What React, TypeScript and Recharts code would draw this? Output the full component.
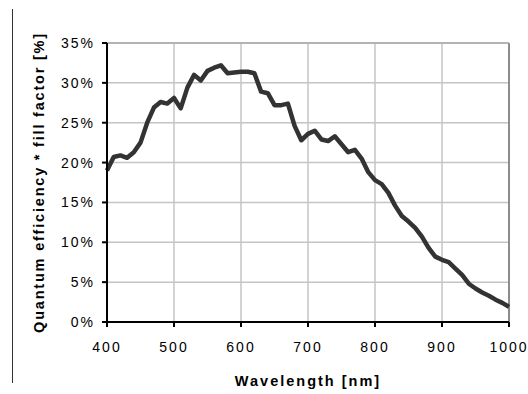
import { LineChart, Line, XAxis, YAxis, CartesianGrid, ReferenceLine } from 'recharts';

// wavelength samples (nm) and QE * fill factor (%)
const wavelengths = [
  400, 410, 420, 430, 440, 450, 460, 470, 480, 490,
  500, 510, 520, 530, 540, 550, 560, 570, 580, 590,
  600, 610, 620, 630, 640, 650, 660, 670, 680, 690,
  700, 710, 720, 730, 740, 750, 760, 770, 780, 790,
  800, 810, 820, 830, 840, 850, 860, 870, 880, 890,
  900, 910, 920, 930, 940, 950, 960, 970, 980, 990, 1000,
];
const efficiency = [
  19.0, 20.7, 20.9, 20.6, 21.3, 22.5, 25.0, 26.9, 27.6, 27.4,
  28.1, 26.8, 29.4, 31.0, 30.3, 31.5, 31.9, 32.2, 31.2, 31.3,
  31.4, 31.4, 31.2, 28.9, 28.7, 27.2, 27.2, 27.4, 24.6, 22.8,
  23.6, 24.0, 22.9, 22.7, 23.3, 22.3, 21.3, 21.6, 20.5, 18.8,
  17.8, 17.3, 16.2, 14.6, 13.3, 12.6, 11.8, 10.7, 9.3, 8.2,
  7.8, 7.5, 6.7, 5.9, 4.8, 4.2, 3.7, 3.3, 2.8, 2.4, 1.9,
];
const xTicks = [400, 500, 600, 700, 800, 900, 1000];
const yTicks = [0, 5, 10, 15, 20, 25, 30, 35];

const data = wavelengths.map((wl, i) => ({ wl, qe: efficiency[i] }));

const font = '"Liberation Sans", Arial, Helvetica, sans-serif';
const tickStyle = { fontFamily: font, fontSize: 14, fill: '#000', letterSpacing: 2 };

const YTitle = (props: any) => {
  const { viewBox } = props;
  const cy = viewBox.y + viewBox.height / 2;
  return (
    <text
      x={44}
      y={cy}
      transform={`rotate(-90, 44, ${cy})`}
      textAnchor="middle"
      fontFamily={font}
      fontSize={14.5}
      fontWeight="bold"
      letterSpacing={1.8}
      fill="#000"
    >
      Quantum efficiency * fill factor [%]
    </text>
  );
};

export default function App() {
  return (
    <div style={{ position: 'absolute', left: 0, top: 0, width: 528, height: 394, background: '#fff' }}>
      {/* thin frame line on the left edge */}
      <div style={{ position: 'absolute', left: 12, top: 9, width: 1, height: 374, background: '#333' }} />
      <LineChart
        width={528}
        height={394}
        data={data}
        margin={{ top: 43, right: 19, bottom: 0, left: 0 }}
      >
        <CartesianGrid stroke="#c4c4c4" strokeWidth={1.5} />
        <XAxis
          dataKey="wl"
          type="number"
          domain={[400, 1000]}
          ticks={xTicks}
          height={72}
          tick={tickStyle}
          tickSize={5}
          tickMargin={15}
          stroke="#000"
          strokeWidth={2}
          tickLine={{ stroke: '#000', strokeWidth: 2 }}
          label={{
            value: 'Wavelength [nm]',
            position: 'insideBottom',
            offset: 8,
            style: { fontFamily: font, fontSize: 14.5, fontWeight: 'bold', fill: '#000', letterSpacing: 2 },
          }}
        />
        <YAxis
          type="number"
          domain={[0, 35]}
          ticks={yTicks}
          width={107}
          tickFormatter={(v) => `${v}%`}
          tick={tickStyle}
          tickSize={5}
          tickMargin={7}
          stroke="#000"
          strokeWidth={2}
          tickLine={{ stroke: '#000', strokeWidth: 2 }}
          label={<YTitle />}
        />
        <ReferenceLine x={1000} stroke="#8c8c8c" strokeWidth={2} />
        <ReferenceLine y={35} stroke="#a8a8a8" strokeWidth={1.5} />
        <Line
          type="linear"
          dataKey="qe"
          stroke="#333"
          strokeWidth={4.5}
          dot={false}
          strokeLinejoin="round"
          isAnimationActive={false}
        />
      </LineChart>
    </div>
  );
}
